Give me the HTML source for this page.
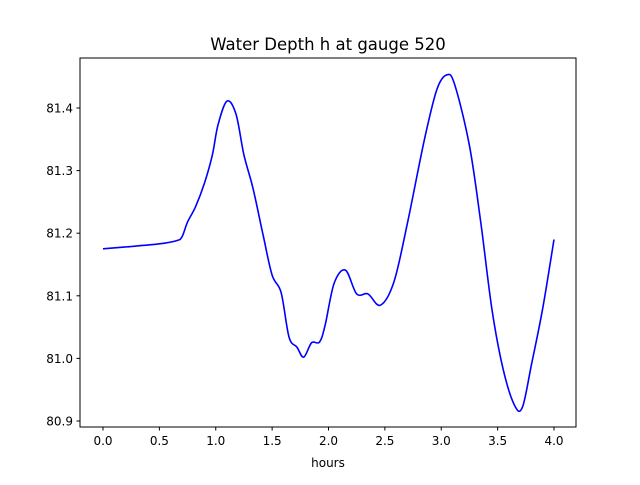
<!DOCTYPE html>
<html><head><meta charset="utf-8"><style>
body{margin:0;background:#fff}
svg text{font-family:"DejaVu Sans","Liberation Sans",sans-serif;fill:#000}
</style></head><body>
<svg id="chart" width="640" height="480">
<rect width="640" height="480" fill="#fff"/>
<text x="328" y="50" font-size="16.5" text-anchor="middle">Water Depth h at gauge 520</text>
<g id="axes"></g>
<path id="line" fill="none" stroke="#0000ff" stroke-width="1.6"/>
<rect x="80" y="58" width="496" height="369" fill="none" stroke="#000" stroke-width="1"/>
<text x="328" y="467" font-size="12" text-anchor="middle">hours</text>
</svg>
<script>
const times=[0,0.2,0.5,0.65,0.7,0.75,0.82,0.9,0.97,1.02,1.1,1.18,1.25,1.33,1.42,1.5,1.58,1.65,1.72,1.78,1.85,1.92,1.97,2.05,2.15,2.25,2.35,2.46,2.58,2.7,2.85,2.96,3.05,3.12,3.25,3.35,3.45,3.55,3.65,3.72,3.8,3.9,4.0];
const depths=[81.175,81.178,81.183,81.188,81.194,81.218,81.242,81.28,81.325,81.373,81.411,81.39,81.325,81.272,81.197,81.133,81.105,81.034,81.018,81.002,81.025,81.026,81.053,81.12,81.141,81.103,81.103,81.085,81.122,81.216,81.349,81.429,81.453,81.437,81.34,81.218,81.078,80.982,80.925,80.922,80.99,81.08,81.19];
const xTicks=[0,0.5,1,1.5,2,2.5,3,3.5,4];
const xTickLabels=["0.0","0.5","1.0","1.5","2.0","2.5","3.0","3.5","4.0"];
const yTicks=[80.9,81.0,81.1,81.2,81.3,81.4];
const yTickLabels=["80.9","81.0","81.1","81.2","81.3","81.4"];
const X=t=>103+t*112.75;
const Y=v=>358.4-(v-81.0)*626;
const NS="http://www.w3.org/2000/svg";
const ax=document.getElementById('axes');
function mk(tag,attrs){const e=document.createElementNS(NS,tag);for(const k in attrs)e.setAttribute(k,attrs[k]);ax.appendChild(e);return e;}
xTicks.forEach((t,i)=>{
  const l=mk('line',{x1:X(t),x2:X(t),y1:427,y2:430.5,stroke:'#000'});
  
  
  const tx=mk('text',{x:X(t),y:445,'font-size':12,'text-anchor':'middle'});
  tx.textContent=xTickLabels[i];
  
  
});
yTicks.forEach((v,i)=>{
  const l=mk('line',{x1:76.5,x2:80,y1:Y(v),y2:Y(v),stroke:'#000'});
  
  
  const tx=mk('text',{x:73,y:Y(v)+4.5,'font-size':12,'text-anchor':'end'});
  tx.textContent=yTickLabels[i];
  
  
});
const P=times.map((t,i)=>[X(t),Y(depths[i])]);
let d=`M${P[0][0]},${P[0][1]}`;
for(let i=0;i<P.length-1;i++){
  const p0=P[Math.max(0,i-1)],p1=P[i],p2=P[i+1],p3=P[Math.min(P.length-1,i+2)];
  const c1=[p1[0]+(p2[0]-p0[0])/6,p1[1]+(p2[1]-p0[1])/6];
  const c2=[p2[0]-(p3[0]-p1[0])/6,p2[1]-(p3[1]-p1[1])/6];
  d+=` C${c1[0]},${c1[1]} ${c2[0]},${c2[1]} ${p2[0]},${p2[1]}`;
}
document.getElementById('line').setAttribute('d',d);
</script>
</body></html>
